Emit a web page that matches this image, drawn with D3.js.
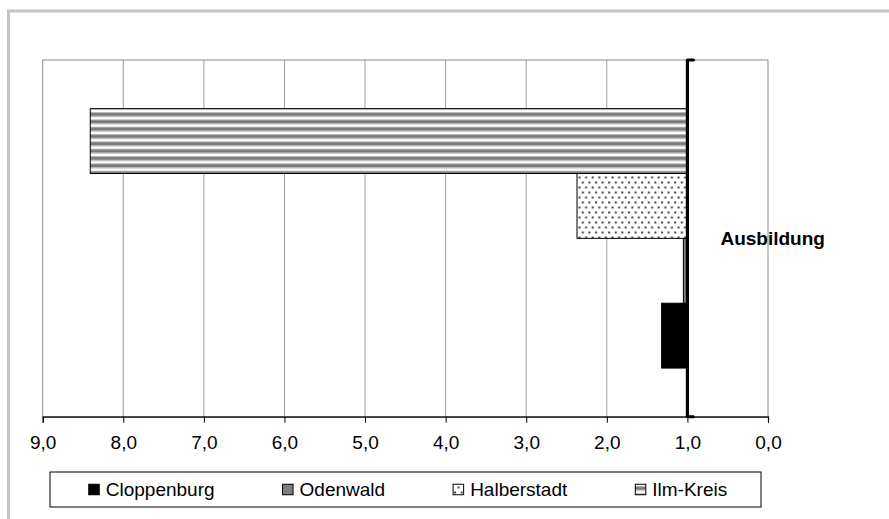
<!DOCTYPE html>
<html>
<head>
<meta charset="utf-8">
<script src="https://cdn.jsdelivr.net/npm/d3@7"></script>
<style>
  body { margin: 0; background: #fff; }
  svg { display: block; font-family: "Liberation Sans", Arial, sans-serif; }
</style>
</head>
<body>
<div class="graphHere"></div>
<script>
// data
var category = "Ausbildung";
var seriesNames = ["Cloppenburg", "Odenwald", "Halberstadt", "Ilm-Kreis"];
var seriesValues = [1.32, 1.05, 2.37, 8.41];
var baseValue = 1.0;
var xTicks = [9, 8, 7, 6, 5, 4, 3, 2, 1, 0];

var dims = { width: 889, height: 519 };
var plot = { left: 42.7, right: 768, top: 60, bottom: 416.7 };
var fontSize = 19;

var svg = d3.select(".graphHere").append("svg")
  .attr("width", dims.width)
  .attr("height", dims.height);

// fill patterns
var defs = svg.append("defs");
var stripes = defs.append("pattern")
  .attr("id", "stripes")
  .attr("patternUnits", "userSpaceOnUse")
  .attr("width", 8).attr("height", 7.33)
  .attr("y", 2);
stripes.append("rect").attr("width", 8).attr("height", 7.33).attr("fill", "#fff");
stripes.append("rect").attr("y", 0).attr("width", 8).attr("height", 1).attr("fill", "#bdbdbd");
stripes.append("rect").attr("y", 1).attr("width", 8).attr("height", 3.2).attr("fill", "#7a7a7a");
stripes.append("rect").attr("y", 4.2).attr("width", 8).attr("height", 1).attr("fill", "#bdbdbd");

var dots = defs.append("pattern")
  .attr("id", "dots")
  .attr("patternUnits", "userSpaceOnUse")
  .attr("width", 6.6).attr("height", 10);
dots.append("rect").attr("width", 6.6).attr("height", 10).attr("fill", "#fff");
dots.append("rect").attr("x", 1).attr("y", 1.5).attr("width", 2).attr("height", 2).attr("fill", "#444");
dots.append("rect").attr("x", 4.3).attr("y", 6.5).attr("width", 2).attr("height", 2).attr("fill", "#444");

var seriesFill = {
  "Cloppenburg": "#000",
  "Odenwald": "#808080",
  "Halberstadt": "url(#dots)",
  "Ilm-Kreis": "url(#stripes)"
};

// outer chart frame (only top and left visible)
svg.append("rect")
  .attr("x", 8.5).attr("y", 11)
  .attr("width", dims.width + 20).attr("height", dims.height + 20)
  .attr("fill", "none")
  .attr("stroke", "#c4c4c4")
  .attr("stroke-width", 3);

var scalex = d3.scaleLinear()
  .domain([9, 0])
  .range([plot.left, plot.right]);

var scaleCat = d3.scaleBand()
  .domain([category])
  .range([plot.top, plot.bottom]);

var scaleSeries = d3.scaleBand()
  .domain(seriesNames.slice().reverse())
  .range([0, scaleCat.bandwidth()])
  .paddingInner(0)
  .paddingOuter(0.75);

// gridlines
svg.append("g")
  .selectAll("line")
  .data(xTicks.filter(function(t){ return t != 9 && t != 0; }))
  .enter().append("line")
    .attr("x1", function(d){ return scalex(d); })
    .attr("x2", function(d){ return scalex(d); })
    .attr("y1", plot.top)
    .attr("y2", plot.bottom)
    .attr("stroke", "#a0a0a0")
    .attr("stroke-width", 1);

// plot border
svg.append("rect")
  .attr("x", plot.left).attr("y", plot.top)
  .attr("width", plot.right - plot.left)
  .attr("height", plot.bottom - plot.top)
  .attr("fill", "none")
  .attr("stroke", "#8c8c8c")
  .attr("stroke-width", 1);

// bars, growing from the base value
svg.append("g")
  .selectAll("rect")
  .data(seriesNames)
  .enter().append("rect")
    .attr("x", function(d, i){ return scalex(Math.max(seriesValues[i], baseValue)); })
    .attr("y", function(d){ return scaleCat(category) + scaleSeries(d); })
    .attr("width", function(d, i){ return Math.abs(scalex(seriesValues[i]) - scalex(baseValue)); })
    .attr("height", scaleSeries.bandwidth())
    .attr("fill", function(d){ return seriesFill[d]; })
    .attr("stroke", "#000")
    .attr("stroke-width", 1);

// x axis
var locale = d3.formatLocale({ decimal: ",", thousands: ".", grouping: [3], currency: ["", "€"] });
var xAxis = d3.axisBottom(scalex)
  .tickValues(xTicks)
  .tickSize(6)
  .tickPadding(13)
  .tickFormat(locale.format(".1f"));

var gx = svg.append("g")
  .attr("transform", "translate(0," + plot.bottom + ")")
  .call(xAxis);
gx.select(".domain").attr("stroke", "#000").attr("stroke-width", 1.2);
gx.selectAll(".tick line").attr("stroke", "#000");
gx.selectAll(".tick text")
  .attr("font-family", "Liberation Sans, Arial, sans-serif")
  .attr("font-size", fontSize)
  .attr("fill", "#000");

// category axis crossing at the base value
var axisX = scalex(baseValue);
svg.append("line")
  .attr("x1", axisX).attr("x2", axisX)
  .attr("y1", plot.top).attr("y2", plot.bottom)
  .attr("stroke", "#000")
  .attr("stroke-width", 3.2);
svg.append("g")
  .selectAll("line")
  .data(scaleCat.range())
  .enter().append("line")
    .attr("x1", axisX).attr("x2", axisX + 6)
    .attr("y1", function(d){ return d; })
    .attr("y2", function(d){ return d; })
    .attr("stroke", "#000")
    .attr("stroke-width", 3)
    .attr("stroke-linecap", "round");

svg.append("text")
  .attr("x", axisX + 33)
  .attr("y", scaleCat(category) + scaleCat.bandwidth() / 2)
  .attr("dy", "0.35em")
  .attr("font-size", fontSize)
  .attr("font-weight", "bold")
  .text(category);

// legend
var legend = { left: 50, right: 761, top: 472, bottom: 507 };
svg.append("rect")
  .attr("x", legend.left).attr("y", legend.top)
  .attr("width", legend.right - legend.left)
  .attr("height", legend.bottom - legend.top)
  .attr("fill", "#fff")
  .attr("stroke", "#000")
  .attr("stroke-width", 1);

var legendY = (legend.top + legend.bottom) / 2;
var markerSize = 10.5;
var items = svg.append("g")
  .selectAll("g")
  .data(seriesNames)
  .enter().append("g");

items.append("text")
  .attr("y", legendY)
  .attr("dy", "0.35em")
  .attr("font-size", fontSize)
  .text(function(d){ return d; });

// lay the items out from their text widths
var gap = 68, markerGap = 6.5;
var widths = [];
items.select("text").each(function(){ widths.push(this.getComputedTextLength()); });
var total = d3.sum(widths) + seriesNames.length * (markerSize + markerGap) + (seriesNames.length - 1) * gap;
var startX = legend.left + (legend.right - legend.left - total) / 2 + 2.5;
var xs = [];
widths.reduce(function(pos, w){ xs.push(pos); return pos + markerSize + markerGap + w + gap; }, startX);

items.attr("transform", function(d, i){ return "translate(" + xs[i] + ",0)"; });
items.select("text").attr("x", markerSize + markerGap);
items.append("rect")
  .attr("x", 0)
  .attr("y", legendY - markerSize / 2)
  .attr("width", markerSize)
  .attr("height", markerSize)
  .attr("fill", function(d){ return seriesFill[d]; })
  .attr("stroke", "#000")
  .attr("stroke-width", 1);
</script>
</body>
</html>
